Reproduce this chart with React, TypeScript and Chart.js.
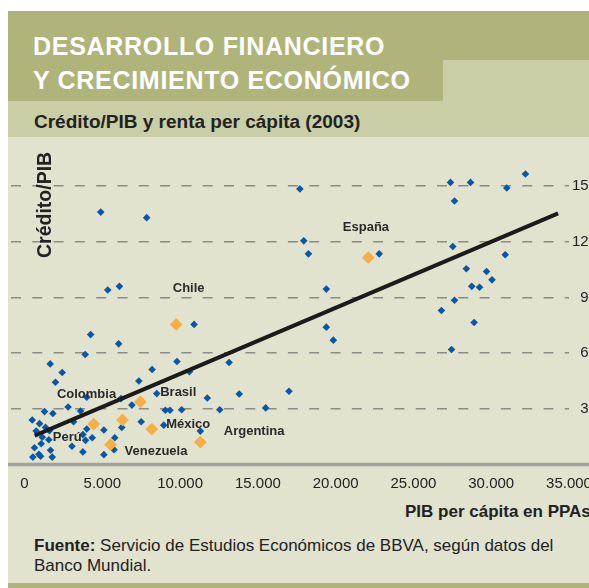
import React, { useEffect, useRef } from "react";
import { Chart, registerables } from "chart.js";

Chart.register(...registerables);

// Other countries (PIB per cápita en PPAs, Crédito/PIB)
const otherX = [
  27380, 28670, 32200, 31000, 27640, 27530, 30900, 28400, 29700, 30050, 28750, 29250, 27640, 26800, 28900, 27450,
  17700, 17950, 18250, 22800, 19400, 19400, 19850, 17000, 15500, 13800, 13150, 12550, 11750, 11300, 10600, 10900,
  10100, 9800, 9350, 9050, 8950, 8500, 8200, 7850, 7500, 7350, 6900, 6200, 6250, 6100, 6050, 5800, 5750, 5350,
  5100, 5100, 4900, 4350, 4250, 4000, 4000, 3900, 3920, 3750, 3750, 3600, 3150, 3050, 2800, 2420, 1990, 1650,
  1820, 1285, 1350, 1600, 964, 495, 750, 1140, 1560, 1070, 640, 1670, 535, 920, 1030, 1780,
];
const otherY = [
  152, 152, 156.5, 149, 142, 117.5, 113, 105.5, 104, 99.5, 96, 95.5, 88.5, 83, 76.5, 62,
  148.5, 120.5, 113.5, 113.5, 94.5, 74, 67, 39.5, 30.5, 38, 55, 29.5, 35.8, 18, 50, 75.5,
  29.5, 55.5, 29.2, 29.2, 21.2, 38.2, 51.2, 133, 23, 45, 32, 35.5, 20, 96, 65, 14.4, 8, 94,
  18.6, 5.3, 136, 14.4, 70, 36.2, 19.1, 59.3, 13, 16.1, 6.8, 28.8, 23, 9.8, 31, 49.6, 44.3, 54.2,
  27.5, 28.5, 20, 18.2, 22, 24, 18, 14.7, 13.3, 11.2, 9, 7.7, 4, 5.5, 4.5, 4,
];

// Highlighted countries
const highlightX = [9750, 22100, 4450, 6300, 5530, 7450, 8180, 11300];
const highlightY = [75.5, 111.5, 21.8, 24, 10.7, 33.7, 19.1, 12.1];

// Trend line
const trendX = [650, 34300];
const trendY = [15.6, 135.3];

// Country labels
const labelNames = ["España", "Chile", "Colombia", "Brasil", "México", "Perú", "Venezuela", "Argentina"];
const labelX = [20460, 9530, 2080, 8720, 9105, 1820, 6430, 12810];
const labelY = [127.8, 94.9, 37.6, 39, 21.8, 14.7, 6.8, 17.9];

const xTicks = [0, 5000, 10000, 15000, 20000, 25000, 30000, 35000];
const yTicks = [30, 60, 90, 120, 150];

const FONT = "'Liberation Sans', Arial, sans-serif";
const DARK = "#afb47a";
const LIGHT = "#c9cea6";
const BG = "#e1e3cf";
const TEXT = "#222222";

const decorPlugin = {
  id: "decor",
  beforeDatasetsDraw(chart: any) {
    const { ctx } = chart;
    const y = chart.scales.y;
    const py = y.getPixelForValue(0);
    ctx.save();
    ctx.strokeStyle = "#a2a29c";
    ctx.lineWidth = 3.3;
    ctx.beginPath();
    ctx.moveTo(0, py);
    ctx.lineTo(chart.width, py);
    ctx.stroke();
    ctx.restore();
  },
  afterDatasetsDraw(chart: any) {
    const { ctx } = chart;
    const xs = chart.scales.x;
    const ys = chart.scales.y;
    ctx.save();
    ctx.font = `bold 13px ${FONT}`;
    ctx.fillStyle = "#2a2a2a";
    ctx.textAlign = "left";
    ctx.textBaseline = "middle";
    labelNames.forEach((n, i) => {
      ctx.fillText(n, xs.getPixelForValue(labelX[i]), ys.getPixelForValue(labelY[i]));
    });
    ctx.restore();
  },
};

function ChartCanvas() {
  const ref = useRef<HTMLCanvasElement>(null);
  useEffect(() => {
    if (!ref.current) return;
    const chart = new Chart(ref.current, {
      type: "scatter",
      data: {
        datasets: [
          {
            label: "Tendencia",
            data: trendX.map((x, i) => ({ x, y: trendY[i] })),
            showLine: true,
            borderColor: "#1b1b1b",
            borderWidth: 4,
            pointRadius: 0,
          },
          {
            label: "Destacados",
            data: highlightX.map((x, i) => ({ x, y: highlightY[i] })),
            pointStyle: "rectRot",
            pointRadius: 6.4,
            backgroundColor: "#f7ae45",
            borderWidth: 0,
          },
          {
            label: "Otros",
            data: otherX.map((x, i) => ({ x, y: otherY[i] })),
            pointStyle: "rectRot",
            pointRadius: 3.8,
            backgroundColor: "#0a57a5",
            borderWidth: 0,
          },
        ],
      },
      options: {
        animation: false,
        responsive: false,
        layout: { padding: { left: 3, top: 6, right: 51, bottom: 0 }, autoPadding: false },
        plugins: { legend: { display: false }, tooltip: { enabled: false } },
        scales: {
          x: {
            type: "linear",
            min: -870,
            max: 35000,
            afterBuildTicks: (s: any) => {
              s.ticks = xTicks.map((v) => ({ value: v }));
            },
            afterFit: (s: any) => {
              s.height = 32.5;
            },
            grid: { display: false, drawTicks: false },
            border: { display: false },
            ticks: {
              autoSkip: false,
              maxRotation: 0,
              padding: 10,
              color: TEXT,
              font: { family: FONT, size: 15 },
              callback: (v: any) => Number(v).toLocaleString("de-DE"),
            },
          },
          y: {
            type: "linear",
            position: "right",
            min: 0,
            max: 170,
            afterBuildTicks: (s: any) => {
              s.ticks = yTicks.map((v) => ({ value: v }));
            },
            afterFit: (s: any) => {
              s.width = 28;
            },
            grid: { color: "#8c8c86", lineWidth: 1.5, drawTicks: false },
            border: { display: false, dash: [10, 11.3] },
            ticks: {
              padding: 3,
              crossAlign: "far",
              color: TEXT,
              font: { family: FONT, size: 15 },
              callback: (v: any) => String(v),
            },
          },
        },
      },
      plugins: [decorPlugin],
    } as any);
    return () => chart.destroy();
  }, []);
  return (
    <canvas
      ref={ref}
      width={640}
      height={360}
      style={{ position: "absolute", left: 8, top: 137, width: 640, height: 360 }}
    />
  );
}

export default function App() {
  return (
    <div
      style={{
        position: "fixed",
        left: 0,
        top: 0,
        width: 589,
        height: 588,
        overflow: "hidden",
        fontFamily: FONT,
        background: "#ffffff",
      }}
    >
      <div style={{ position: "absolute", left: 8, top: 11, width: 581, height: 90, background: DARK }} />
      <div style={{ position: "absolute", left: 443, top: 60, width: 146, height: 41, background: LIGHT }} />
      <div style={{ position: "absolute", left: 8, top: 101, width: 581, height: 36, background: LIGHT }} />
      <div style={{ position: "absolute", left: 8, top: 137, width: 581, height: 446, background: BG }} />
      <div style={{ position: "absolute", left: 8, top: 583, width: 581, height: 5, background: DARK }} />
      <div
        style={{
          position: "absolute",
          left: 33,
          top: 29,
          color: "#ffffff",
          fontWeight: 700,
          fontSize: 25,
          lineHeight: "34px",
          letterSpacing: 0.7,
          whiteSpace: "nowrap",
        }}
      >
        DESARROLLO FINANCIERO
        <br />Y CRECIMIENTO ECONÓMICO
      </div>
      <div
        style={{
          position: "absolute",
          left: 34,
          top: 111,
          color: TEXT,
          fontWeight: 700,
          fontSize: 19,
          lineHeight: "22px",
          whiteSpace: "nowrap",
        }}
      >
        Crédito/PIB y renta per cápita (2003)
      </div>
      <ChartCanvas />
      <div
        style={{
          position: "absolute",
          left: 34,
          top: 258,
          transformOrigin: "0 0",
          transform: "rotate(-90deg)",
          color: TEXT,
          fontWeight: 700,
          fontSize: 19.5,
          lineHeight: "20px",
          whiteSpace: "nowrap",
        }}
      >
        Crédito/PIB
      </div>
      <div
        style={{
          position: "absolute",
          left: 405,
          top: 501,
          color: TEXT,
          fontWeight: 700,
          fontSize: 17,
          lineHeight: "22px",
          whiteSpace: "nowrap",
        }}
      >
        PIB per cápita en PPAs
      </div>
      <div
        style={{
          position: "absolute",
          left: 34,
          top: 536,
          color: TEXT,
          fontSize: 17,
          lineHeight: "20px",
          width: 550,
        }}
      >
        <b>Fuente:</b> Servicio de Estudios Económicos de BBVA, según datos del Banco Mundial.
      </div>
    </div>
  );
}
